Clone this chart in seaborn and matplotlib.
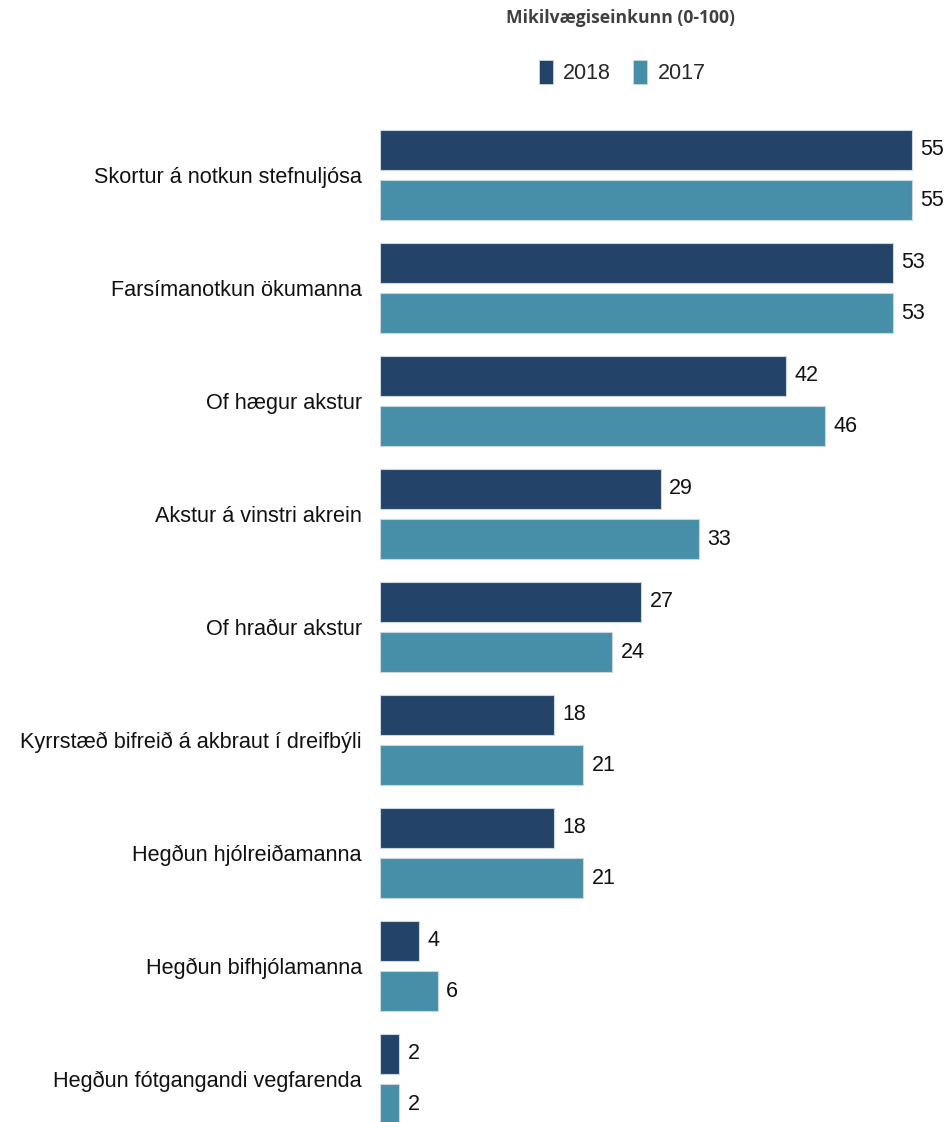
import matplotlib
matplotlib.use("Agg")
import matplotlib.pyplot as plt
from matplotlib.patches import Patch
import seaborn as sns
import pandas as pd

categories = [
    "Skortur á notkun stefnuljósa",
    "Farsímanotkun ökumanna",
    "Of hægur akstur",
    "Akstur á vinstri akrein",
    "Of hraður akstur",
    "Kyrrstæð bifreið á akbraut í dreifbýli",
    "Hegðun hjólreiðamanna",
    "Hegðun bifhjólamanna",
    "Hegðun fótgangandi vegfarenda",
]
values_2018 = [55, 53, 42, 29, 27, 18, 18, 4, 2]
values_2017 = [55, 53, 46, 33, 24, 21, 21, 6, 2]
series = ["2018", "2017"]
title = "Mikilvægiseinkunn (0-100)"

colors = {"2018": "#234468", "2017": "#478FA8"}

df = pd.DataFrame({
    "cat": categories * 2,
    "val": values_2018 + values_2017,
    "year": ["2018"] * len(categories) + ["2017"] * len(categories),
})

sns.set_style("white")
plt.rcParams["font.family"] = ["Liberation Sans", "DejaVu Sans"]

W, H = 952, 1122
fig = plt.figure(figsize=(W / 100, H / 100), dpi=100)
ax = fig.add_axes([380 / W, 0, 561 / W, 1])

sns.barplot(data=df, y="cat", x="val", hue="year", hue_order=series,
            order=categories, palette=colors, orient="h", saturation=1,
            width=0.885, gap=0.2, edgecolor="#c9d6e0", linewidth=0.8,
            legend=False, ax=ax)

ax.set_xlim(0, 58)
ax.set_ylim(8 + (1122 - 1079) / 113, -175 / 113)
for s in ax.spines.values():
    s.set_visible(False)
ax.set_xticks([])
ax.set_xlabel("")
ax.set_ylabel("")
ax.tick_params(axis="y", length=0, pad=13, labelsize=15.6, labelcolor="#111111")

for cont in ax.containers:
    ax.bar_label(cont, fmt="%d", padding=6, fontsize=15.5, color="#111111")

fig.text(621 / W, 1 - 18 / H, title, ha="center", va="center",
         fontsize=12.6, fontweight="bold", color="#404040", family="Open Sans")

handles = [Patch(facecolor=colors[s], edgecolor="#c9d6e0", linewidth=0.6) for s in series]
fig.legend(handles, series, loc="center", bbox_to_anchor=(622 / W, 1 - 72 / H),
           ncol=2, frameon=False, fontsize=15.5, handlelength=0.65,
           handleheight=1.35, handletextpad=0.5, columnspacing=1.0)

fig.savefig("out.png", dpi=100)
